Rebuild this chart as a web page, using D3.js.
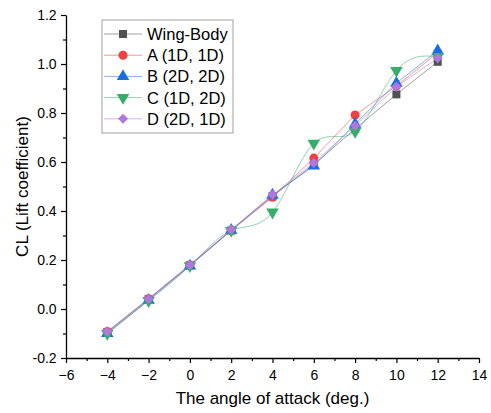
<!DOCTYPE html>
<html>
<head>
<meta charset="utf-8">
<script src="https://cdn.jsdelivr.net/npm/d3@7"></script>
<style>
  body { margin: 0; background: #fff; }
  text { font-family: Arial, "Liberation Sans", sans-serif; }
</style>
</head>
<body>
<div id="chart"></div>
<script>
const angles = [-4, -2, 0, 2, 4, 6, 8, 10, 12];
const seriesNames = ['Wing-Body', 'A (1D, 1D)', 'B (2D, 2D)', 'C (1D, 2D)', 'D (2D, 1D)'];
const wingBody = [-0.095, 0.040, 0.178, 0.320, 0.460, 0.590, 0.735, 0.876, 1.009];
const seriesA = [-0.092, 0.042, 0.180, 0.322, 0.456, 0.616, 0.792, 0.910, 1.046];
const seriesB = [-0.100, 0.036, 0.176, 0.322, 0.465, 0.584, 0.755, 0.922, 1.054];
const seriesC = [-0.100, 0.034, 0.176, 0.320, 0.395, 0.676, 0.724, 0.973, 1.030];
const seriesD = [-0.092, 0.042, 0.180, 0.324, 0.466, 0.596, 0.748, 0.907, 1.024];
const xTicks = [-6, -4, -2, 0, 2, 4, 6, 8, 10, 12, 14];
const yTicks = [-0.2, 0.0, 0.2, 0.4, 0.6, 0.8, 1.0, 1.2];

const colors = ['#515151', '#F14040', '#1A6FDF', '#37AD6B', '#B177DE'];
const symbols = [d3.symbolSquare, d3.symbolCircle, d3.symbolTriangle, d3.symbolTriangle, d3.symbolSquare];
const rotations = [0, 0, 0, 180, 45];
const symSizes = [64, 64, 68, 68, 50];
const curves = [d3.curveLinear, d3.curveLinear, d3.curveLinear, d3.curveNatural, d3.curveLinear];
const allValues = [wingBody, seriesA, seriesB, seriesC, seriesD];

const width = 491, height = 413;
const x = d3.scaleLinear().domain([-6, 14]).range([66, 479]);
const y = d3.scaleLinear().domain([-0.2, 1.2]).range([358, 15]);

const svg = d3.select('#chart').append('svg')
  .attr('width', width).attr('height', height);

// minor ticks
const xMinor = d3.range(-5, 14, 2);
const yMinor = d3.range(-0.1, 1.2, 0.2);

const xAxis = svg.append('g')
  .attr('transform', `translate(0,${y(-0.2)})`)
  .call(d3.axisBottom(x).tickValues(xTicks).tickFormat(d3.format('d')).tickSize(5).tickSizeOuter(0));
svg.append('g')
  .attr('transform', `translate(0,${y(-0.2)})`)
  .call(d3.axisBottom(x).tickValues(xMinor).tickFormat('').tickSize(3).tickSizeOuter(0))
  .select('.domain').remove();

const yAxis = svg.append('g')
  .attr('transform', `translate(${x(-6)},0)`)
  .call(d3.axisLeft(y).tickValues(yTicks).tickFormat(d3.format('.1f')).tickSize(5).tickSizeOuter(0));
svg.append('g')
  .attr('transform', `translate(${x(-6)},0)`)
  .call(d3.axisLeft(y).tickValues(yMinor).tickFormat('').tickSize(3).tickSizeOuter(0))
  .select('.domain').remove();

svg.selectAll('.domain').attr('stroke', '#000').attr('stroke-width', 1.3);
svg.selectAll('.tick line').attr('stroke', '#000').attr('stroke-width', 1.2);
xAxis.selectAll('.tick text').attr('font-size', 14).attr('fill', '#000').attr('dy', '1.0em');
yAxis.selectAll('.tick text').attr('font-size', 14).attr('fill', '#000').attr('dx', '-0.1em');
yAxis.selectAll('.tick text').text(d => d.toFixed(1));

// axis titles
svg.append('text')
  .attr('x', (x(-6) + x(14)) / 2)
  .attr('y', 404)
  .attr('text-anchor', 'middle')
  .attr('font-size', 17)
  .text('The angle of attack (deg.)');

svg.append('text')
  .attr('transform', `translate(28,${(y(-0.2) + y(1.2)) / 2}) rotate(-90)`)
  .attr('text-anchor', 'middle')
  .attr('font-size', 17)
  .text('CL (Lift coefficient)');

// series
allValues.forEach((vals, i) => {
  const pts = angles.map((a, j) => ({ a: a, v: vals[j] }));
  const line = d3.line().x(d => x(d.a)).y(d => y(d.v)).curve(curves[i]);
  svg.append('path')
    .datum(pts)
    .attr('fill', 'none')
    .attr('stroke', colors[i])
    .attr('stroke-opacity', 0.55)
    .attr('stroke-width', 1)
    .attr('d', line);
  svg.selectAll(null)
    .data(pts)
    .enter().append('path')
    .attr('d', d3.symbol().type(symbols[i]).size(symSizes[i]))
    .attr('transform', d => `translate(${x(d.a)},${y(d.v)}) rotate(${rotations[i]})`)
    .attr('fill', colors[i]);
});

// legend
const legend = svg.append('g');
legend.append('rect')
  .attr('x', 102).attr('y', 20).attr('width', 131).attr('height', 113)
  .attr('fill', '#fff').attr('stroke', '#a0a0a0').attr('stroke-width', 1);
seriesNames.forEach((name, i) => {
  const ly = 34 + i * 21.2;
  legend.append('line')
    .attr('x1', 104).attr('x2', 142).attr('y1', ly).attr('y2', ly)
    .attr('stroke', colors[i]).attr('stroke-opacity', 0.55).attr('stroke-width', 1);
  legend.append('path')
    .attr('d', d3.symbol().type(symbols[i]).size(symSizes[i]))
    .attr('transform', `translate(123,${ly}) rotate(${rotations[i]})`)
    .attr('fill', colors[i]);
  legend.append('text')
    .attr('x', 147).attr('y', ly + 6)
    .attr('font-size', 16.5)
    .text(name);
});
</script>
</body>
</html>
